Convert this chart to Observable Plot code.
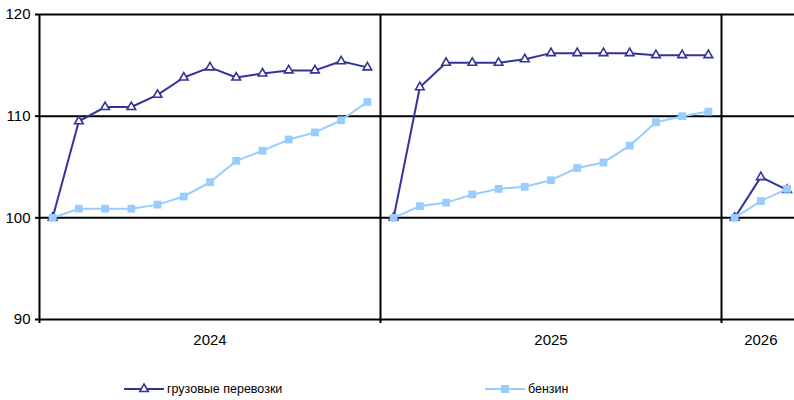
<!DOCTYPE html>
<html>
<head>
<meta charset="utf-8">
<script src="https://cdn.jsdelivr.net/npm/d3@7"></script>
<script src="https://cdn.jsdelivr.net/npm/@observablehq/plot@0.6"></script>
<style>
  body { margin: 0; background: #fff; font-family: "Liberation Sans", Arial, sans-serif; }
  #wrap { position: relative; width: 794px; height: 400px; overflow: hidden; }
  .leg { position: absolute; top: 381px; height: 16px; display: flex; align-items: center; font-size: 12.5px; color: #000; }
  .leg svg { display: block; margin-right: 3px; }
</style>
</head>
<body>
<div id="wrap"></div>
<script>
// ---- data ----
const years = ["2024", "2025", "2026"];
const seriesNames = ["грузовые перевозки", "бензин"];
const freight2024 = [100, 109.5, 110.9, 110.9, 112.1, 113.8, 114.8, 113.8, 114.2, 114.5, 114.5, 115.4, 114.8];
const freight2025 = [100, 112.85, 115.25, 115.25, 115.25, 115.6, 116.2, 116.2, 116.2, 116.2, 116.0, 116.0, 116.0];
const freight2026 = [100, 104.0, 102.75];
const petrol2024 = [100, 100.9, 100.9, 100.9, 101.3, 102.1, 103.5, 105.6, 106.6, 107.7, 108.4, 109.6, 111.4];
const petrol2025 = [100, 101.15, 101.5, 102.3, 102.85, 103.05, 103.7, 104.9, 105.45, 107.1, 109.4, 110.0, 110.45];
const petrol2026 = [100, 101.65, 102.85];
const yTicks = [90, 100, 110, 120];

const freightByYear = [freight2024, freight2025, freight2026];
const petrolByYear = [petrol2024, petrol2025, petrol2026];

const colors = { freight: "#333399", petrol: "#99CCFF" };

// ---- build rows ----
const freightRows = [], petrolRows = [], groups = [];
let start = 0;
years.forEach((yr, g) => {
  const n = freightByYear[g].length;
  freightByYear[g].forEach((v, j) => freightRows.push({ i: start + j + 0.5, year: yr, value: v, series: seriesNames[0] }));
  petrolByYear[g].forEach((v, j) => petrolRows.push({ i: start + j + 0.5, year: yr, value: v, series: seriesNames[1] }));
  groups.push({ year: yr, start, end: start + n, center: start + n / 2 });
  start += n;
});
const total = start;

const slot = 341 / 13;
const left = 39;

const chart = Plot.plot({
  width: 794,
  height: 360,
  marginTop: 14,
  marginBottom: 41,
  marginLeft: left,
  marginRight: 0,
  x: { type: "linear", domain: [0, total], range: [left, left + total * slot], axis: null, label: null },
  y: { domain: [90, 120], range: [319, 14], axis: null, label: null },
  style: { fontFamily: "Liberation Sans, Arial, sans-serif", background: "#fff", color: "#000" },
  marks: [
    Plot.ruleY(yTicks, { stroke: "#000", strokeWidth: 2 }),
    Plot.ruleX(groups, { x: "start", y1: () => 120, y2: () => 90, insetBottom: -4, stroke: "#000", strokeWidth: 2 }),
    Plot.axisY(yTicks, { label: null, tickSize: 4, tickPadding: 5, fontSize: 15, strokeWidth: 2, tickFormat: d => String(d) }),
    Plot.text(groups, { x: "center", y: () => 90, text: "year", dy: 21, fontSize: 15, fill: "#000", lineAnchor: "middle" }),
    Plot.line(freightRows, { x: "i", y: "value", z: "year", stroke: colors.freight, strokeWidth: 2 }),
    Plot.dot(freightRows, { x: "i", y: "value", symbol: "triangle", r: 3.2, stroke: colors.freight, strokeWidth: 1.6, fill: "#fff" }),
    Plot.line(petrolRows, { x: "i", y: "value", z: "year", stroke: colors.petrol, strokeWidth: 2 }),
    Plot.dot(petrolRows, { x: "i", y: "value", symbol: "square", r: 4.4, fill: colors.petrol, stroke: "none" })
  ]
});

const wrap = document.getElementById("wrap");
wrap.appendChild(chart);

// ---- legend ----
function legendItem(name, leftPx, kind) {
  const div = document.createElement("div");
  div.className = "leg";
  div.style.left = leftPx + "px";
  const ns = "http://www.w3.org/2000/svg";
  const s = document.createElementNS(ns, "svg");
  s.setAttribute("width", 40); s.setAttribute("height", 14);
  const ln = document.createElementNS(ns, "line");
  ln.setAttribute("x1", 0); ln.setAttribute("x2", 40); ln.setAttribute("y1", 7); ln.setAttribute("y2", 7);
  ln.setAttribute("stroke", kind === "freight" ? colors.freight : colors.petrol);
  ln.setAttribute("stroke-width", 2);
  s.appendChild(ln);
  if (kind === "freight") {
    const p = document.createElementNS(ns, "path");
    p.setAttribute("d", d3.symbol(d3.symbolTriangle, Math.PI * 3.2 * 3.2)());
    p.setAttribute("transform", "translate(20,7)");
    p.setAttribute("fill", "#fff"); p.setAttribute("stroke", colors.freight); p.setAttribute("stroke-width", 1.6);
    s.appendChild(p);
  } else {
    const r = document.createElementNS(ns, "rect");
    r.setAttribute("x", 16); r.setAttribute("y", 3); r.setAttribute("width", 8); r.setAttribute("height", 8);
    r.setAttribute("fill", colors.petrol);
    s.appendChild(r);
  }
  div.appendChild(s);
  const t = document.createElement("span");
  t.textContent = name;
  div.appendChild(t);
  wrap.appendChild(div);
}
legendItem(seriesNames[0], 124, "freight");
legendItem(seriesNames[1], 485, "petrol");
</script>
</body>
</html>
